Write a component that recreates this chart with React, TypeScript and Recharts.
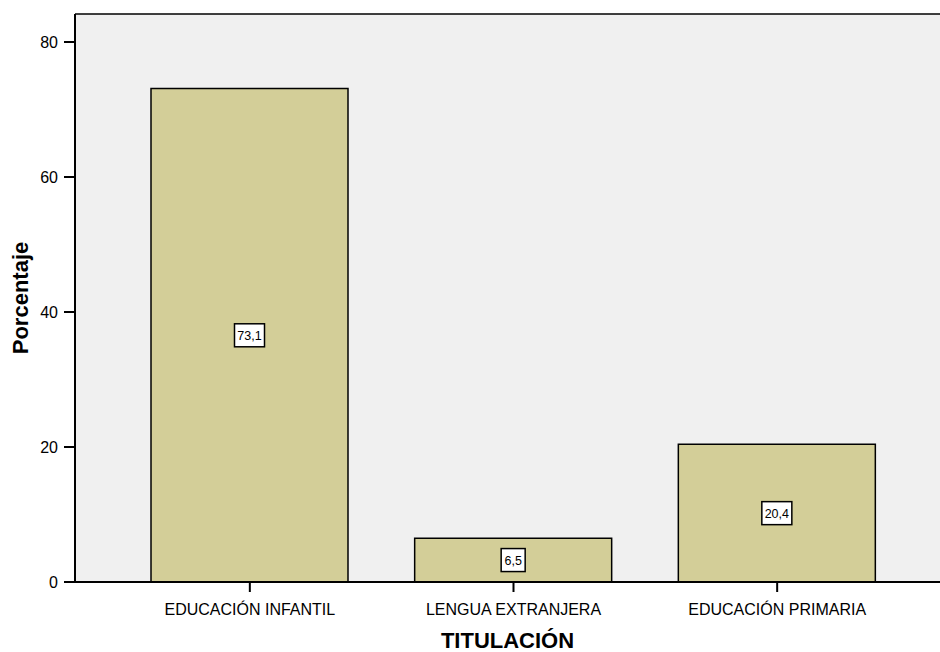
import { BarChart, Bar, XAxis, YAxis, CartesianGrid, ReferenceLine, LabelList } from 'recharts';

const categories = ['EDUCACIÓN INFANTIL', 'LENGUA EXTRANJERA', 'EDUCACIÓN PRIMARIA'];
const percentages = [73.1, 6.5, 20.4];
const yTicks = [0, 20, 40, 60, 80];
const yMax = 84.15;

const data = categories.map((name, i) => ({ name, value: percentages[i] }));

const font = 'Arial, "Liberation Sans", Helvetica, sans-serif';

// white box with the value, centred in the bar
function ValueBox(props: any) {
  const { x, y, width, height, value } = props;
  const text = String(value).replace('.', ',');
  const w = text.length > 3 ? 30 : 24;
  const h = 23;
  const cx = x + width / 2;
  const cy = y + height / 2;
  return (
    <g>
      <rect x={cx - w / 2} y={cy - h / 2} width={w} height={h} fill="#fff" stroke="#000" strokeWidth={1.5} />
      <text x={cx} y={cy + 4.5} textAnchor="middle" fontSize={12.5} fontFamily={font} fill="#000">
        {text}
      </text>
    </g>
  );
}

export default function App() {
  return (
    <div style={{ position: 'absolute', left: 0, top: 0, width: 940, height: 652, background: '#fff' }}>
      <BarChart
        width={940}
        height={652}
        data={data}
        margin={{ top: 14, right: 0, bottom: 0, left: 0 }}
        barCategoryGap={0}
      >
        <CartesianGrid horizontal={false} vertical={false} fill="#f0f0f0" />
        <XAxis
          dataKey="name"
          height={70}
          padding={{ left: 43, right: 31 }}
          axisLine={{ stroke: '#000', strokeWidth: 2 }}
          tickLine={{ stroke: '#000', strokeWidth: 2 }}
          tickSize={10}
          tick={{ fill: '#000', fontSize: 16, fontFamily: font, dy: 10 }}
          interval={0}
          label={{
            value: 'TITULACIÓN',
            position: 'insideBottom',
            offset: 4,
            fill: '#000',
            fontSize: 22,
            fontWeight: 'bold',
            fontFamily: font,
          }}
        />
        <YAxis
          width={75}
          domain={[0, yMax]}
          ticks={yTicks}
          allowDataOverflow
          axisLine={{ stroke: '#000', strokeWidth: 2 }}
          tickLine={{ stroke: '#000', strokeWidth: 2 }}
          tickSize={11}
          tick={{ fill: '#000', fontSize: 16, fontFamily: font, dx: -4 }}
          label={{
            value: 'Porcentaje',
            angle: -90,
            position: 'insideLeft',
            offset: 20,
            fill: '#000',
            fontSize: 22,
            fontWeight: 'bold',
            fontFamily: font,
            style: { textAnchor: 'middle' },
          }}
        />
        <ReferenceLine y={yMax} stroke="#000" strokeWidth={1.5} />
        <Bar dataKey="value" fill="#d3ce98" stroke="#000" strokeWidth={1.5} barSize={197} isAnimationActive={false}>
          <LabelList dataKey="value" content={ValueBox} />
        </Bar>
      </BarChart>
    </div>
  );
}
